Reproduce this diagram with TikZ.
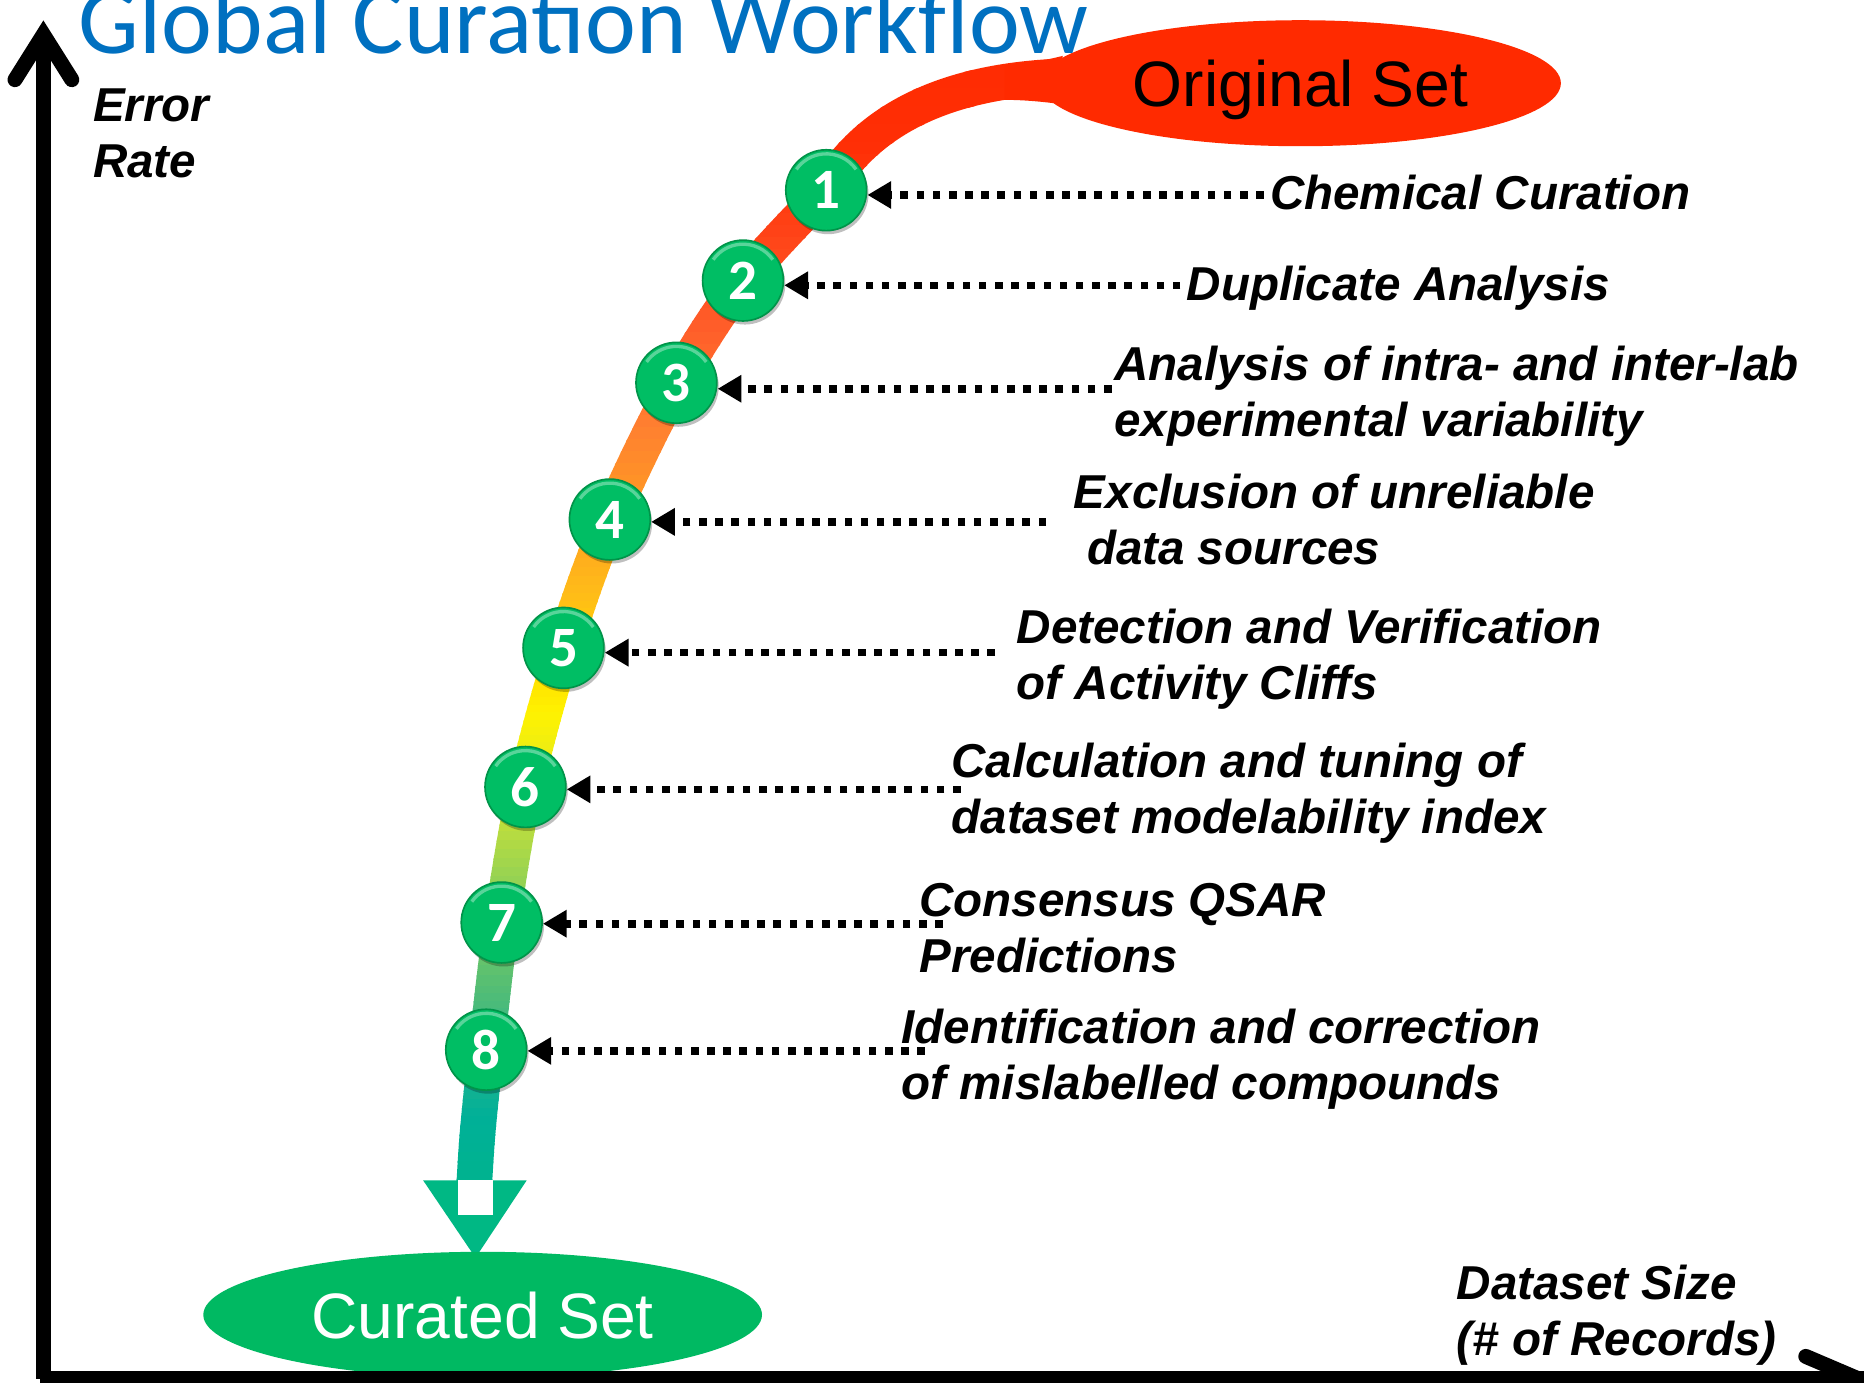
\documentclass[tikz,border=0pt]{standalone}
\usepackage{fontspec}
\usetikzlibrary{arrows.meta,shadows,shapes.geometric}
\newfontfamily\lblfamily{Liberation Sans}
\newfontfamily\ttlfamily{Carlito}

\definecolor{titleblue}{HTML}{0070C0}
\definecolor{origred}{HTML}{FF2A00}
\definecolor{curgreen}{HTML}{00B962}
\definecolor{ballg}{HTML}{00BE64}
\definecolor{ballrim}{HTML}{009449}
\definecolor{headgreen}{HTML}{00B884}
% colour stops of the band, from top to bottom
\definecolor{s0}{HTML}{FF2A00}
\definecolor{s1}{HTML}{FF2E05}
\definecolor{s2}{HTML}{FF4418}
\definecolor{s3}{HTML}{FF5F2A}
\definecolor{s4}{HTML}{FF8030}
\definecolor{s5}{HTML}{FFA020}
\definecolor{s6}{HTML}{FFBC18}
\definecolor{s7}{HTML}{FFD500}
\definecolor{s8}{HTML}{FFF200}
\definecolor{s9}{HTML}{E4EA1C}
\definecolor{s10}{HTML}{B8DC40}
\definecolor{s11}{HTML}{84CE5C}
\definecolor{s12}{HTML}{55BE74}
\definecolor{s13}{HTML}{30B488}
\definecolor{s14}{HTML}{00B098}
\definecolor{s15}{HTML}{00B38E}

\tikzset{
  lbl/.style={anchor=base west, inner sep=0pt,
    font=\lblfamily\bfseries\itshape\fontsize{20pt}{24pt}\selectfont},
  stepball/.style={circle, minimum size=34pt, inner sep=0pt, fill=ballg,
    draw=ballrim, line width=0.7pt, text=white,
    font=\ttlfamily\bfseries\fontsize{24pt}{24pt}\selectfont,
    drop shadow={shadow xshift=0.8pt, shadow yshift=-1.5pt, opacity=0.25, fill=black}},
  pointer/.style={line width=3.2pt, dash pattern=on 3.2pt off 3.6pt,
    -{Triangle[length=10pt,width=11pt]}},
  axisline/.style={line width=6.3pt, black},
  setbox/.style={ellipse, inner sep=0pt, minimum height=53pt, text depth=0pt,
    font=\lblfamily\fontsize{27pt}{27pt}\selectfont}
}

\begin{document}
\begin{tikzpicture}[x=0.5pt,y=-0.5pt]
\useasboundingbox (0,0) rectangle (1568,1163);
\clip (0,0) rectangle (1568,1163);
\fill[white] (0,0) rectangle (1568,1163);

% colour band, shaded top to bottom in thin horizontal strips
\foreach \ya/\yb/\ca/\cb in {0/120/s0/s1, 120/200/s1/s2, 200/280/s2/s3,
  280/360/s3/s4, 360/440/s4/s5, 440/500/s5/s6, 500/550/s6/s7, 550/600/s7/s8,
  600/650/s8/s9, 650/700/s9/s10, 700/760/s10/s11, 760/830/s11/s12,
  830/880/s12/s13, 880/940/s13/s14, 940/1000/s14/s15} {
  \foreach \k in {0,...,7} {
    \pgfmathsetmacro\ylo{\ya+(\yb-\ya)*\k/8-0.4}
    \pgfmathsetmacro\yhi{\ya+(\yb-\ya)*(\k+1)/8+0.4}
    \pgfmathtruncatemacro\pc{100*(\k+0.5)/8}
    \begin{scope}
      \clip (0,\ylo) rectangle (1568,\yhi);
      \draw[line width=15pt, draw={\cb!\pc!\ca}]
        (930,64) .. controls (850,62) and (745,74) .. (695,160)
        plot[smooth, tension=0.55] coordinates {(695,160) (625,236)
          (569,322) (513,437) (474,545) (442,662) (422,776) (409,883)
          (402,950) (399,995)};
    \end{scope}
  }
}
% flare where the band runs into the original set
\fill[origred] (845,55) .. controls (866,53) and (878,51) .. (894,47)
  -- (888,87) .. controls (872,85) and (858,84) .. (845,84) -- cycle;

% arrow head of the band
\fill[headgreen] (356,993) -- (443,993) -- (400,1058) -- cycle;
\fill[white] (385,993) rectangle (415,1022);

% start and end sets
\node[setbox, fill=origred, minimum width=219pt, text=black] (orig) at (1094,70) {Original Set};
\node[setbox, fill=curgreen, minimum width=235pt, text=white] (cur) at (406,1106) {Curated Set};

% title
\node[anchor=base west, inner sep=0pt, text=titleblue,
  font=\ttlfamily\fontsize{40.5pt}{40.5pt}\selectfont] (title) at (66,45) {Global Curation Workflow};

% axes
\draw[axisline, line cap=round, line join=miter] (12.6,67) -- (36.5,29) -- (60.4,67);
\draw[axisline] (36.5,29) -- (36.5,1160);
\draw[axisline] (33.5,1159.5) -- (1580,1159.5);
\draw[axisline, line cap=round] (1519,1141) -- (1580,1167);

\node[lbl] (err1) at (78,102) {Error};
\node[lbl] (err2) at (78,149) {Rate};
\node[lbl] (ds1) at (1225,1093) {Dataset Size};
\node[lbl] (ds2) at (1225,1140) {(\# of Records)};

% workflow steps
\node[stepball] (c1) at (695,160) {1};
\node[stepball] (c2) at (625,236) {2};
\node[stepball] (c3) at (569,322) {3};
\node[stepball] (c4) at (513,437) {4};
\node[stepball] (c5) at (474,545) {5};
\node[stepball] (c6) at (442,662) {6};
\node[stepball] (c7) at (422,776) {7};
\node[stepball] (c8) at (409,883) {8};
\foreach \c in {c1,c2,c3,c4,c5,c6,c7,c8}
  \draw[white, opacity=0.35, line width=1.4pt]
    ([shift={(35:15.3pt)}]\c.center) arc (35:145:15.3pt);

% step descriptions
\node[lbl] (l1) at (1068,176) {Chemical Curation};
\node[lbl] (l2) at (998,253) {Duplicate Analysis};
\node[lbl] (l3a) at (937,320) {Analysis of intra- and inter-lab};
\node[lbl] (l3b) at (937,367) {experimental variability};
\node[lbl] (l4a) at (903,428) {Exclusion of unreliable};
\node[lbl] (l4b) at (914,475) {data sources};
\node[lbl] (l5a) at (855,541) {Detection and Verification};
\node[lbl] (l5b) at (855,588) {of Activity Cliffs};
\node[lbl] (l6a) at (800,654) {Calculation and tuning of};
\node[lbl] (l6b) at (800,701) {dataset modelability index};
\node[lbl] (l7a) at (773,771) {Consensus QSAR};
\node[lbl] (l7b) at (773,818) {Predictions};
\node[lbl] (l8a) at (758,878) {Identification and correction};
\node[lbl] (l8b) at (758,925) {of mislabelled compounds};

% dotted pointers from the descriptions to the steps
\coordinate (t1) at (1063,164);
\coordinate (t2) at (993,240);
\coordinate (t3) at (935,327);
\coordinate (t4) at (880,439);
\coordinate (t5) at (837,549);
\coordinate (t6) at (808,664);
\coordinate (t7) at (793,777);
\coordinate (t8) at (778,884);
\foreach \i in {1,...,8}
  \draw[pointer] (t\i) -- (t\i -| c\i.east);
\end{tikzpicture}
\end{document}
